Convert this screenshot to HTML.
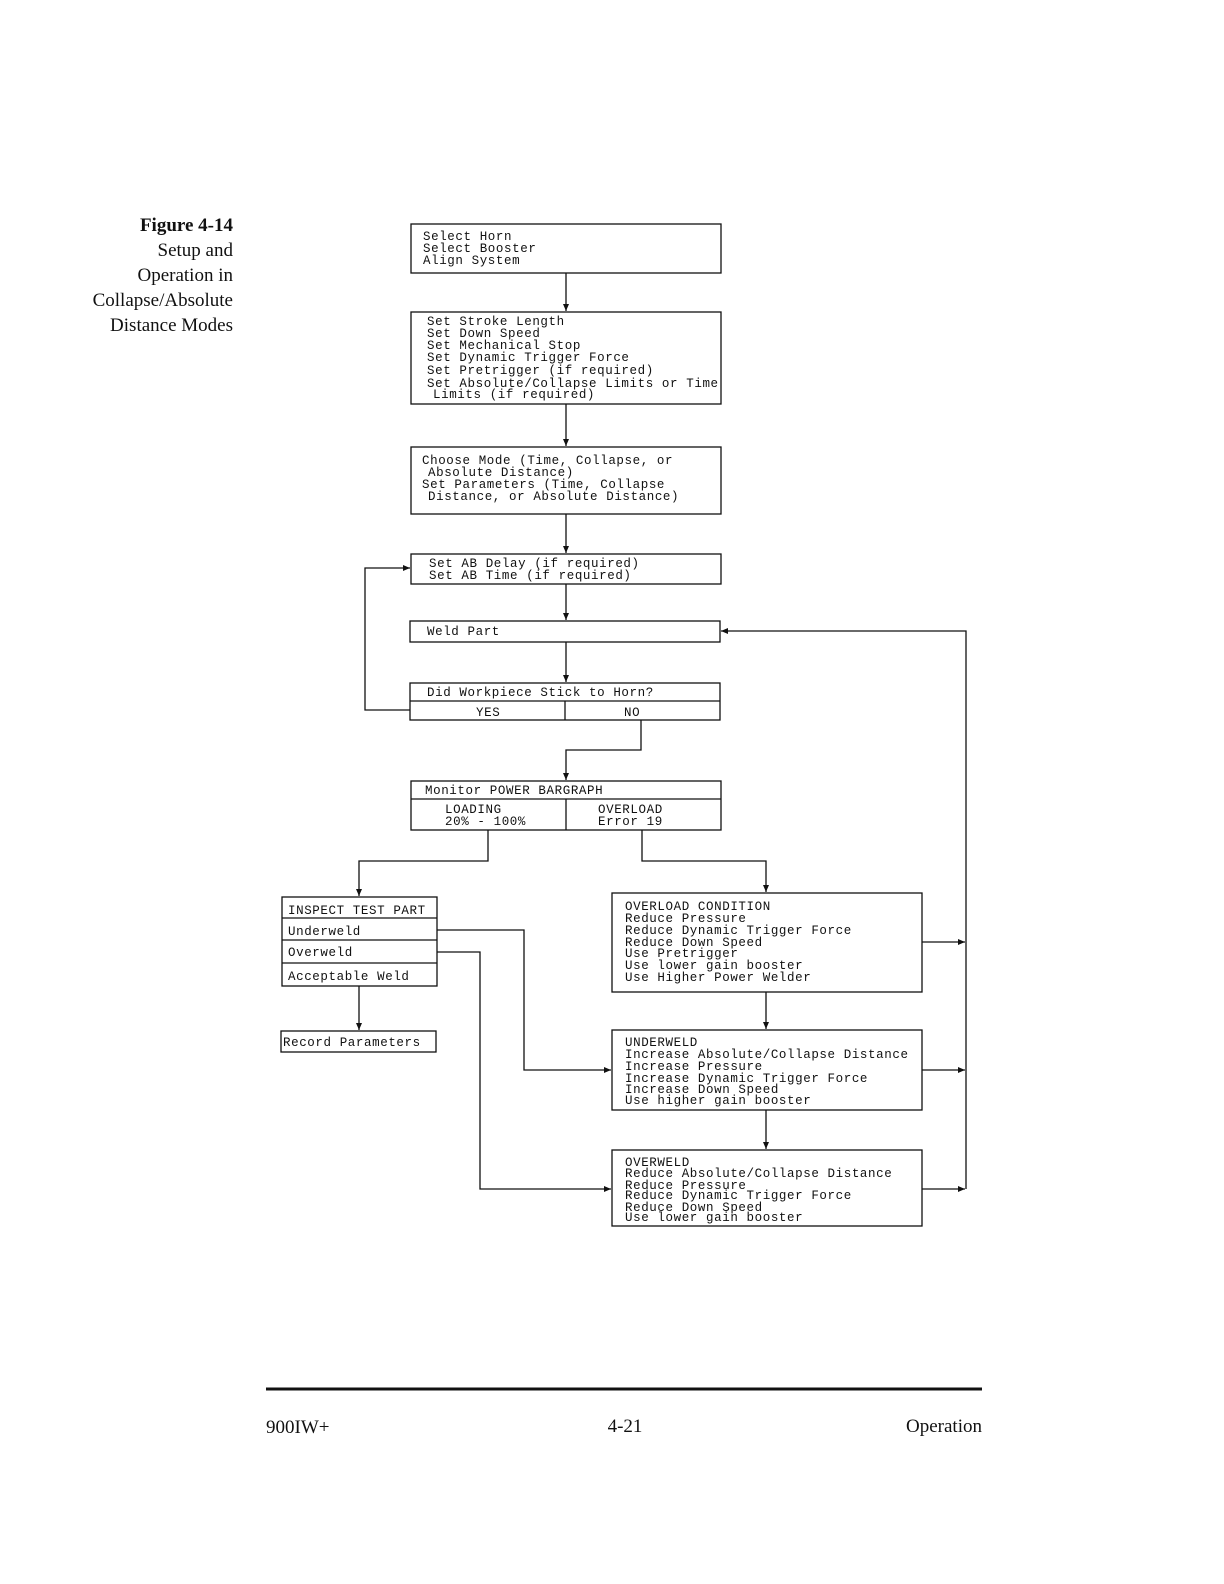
<!DOCTYPE html>
<html><head><meta charset="utf-8"><style>
html,body{margin:0;padding:0;background:#fff;}
svg{display:block}
.m{font-family:"Liberation Mono",monospace;font-size:12.5px;letter-spacing:0.6px;fill:#111}
.s{font-family:"Liberation Serif",serif;font-size:19px;fill:#111}
</style></head><body>
<svg width="1224" height="1584" viewBox="0 0 1224 1584" xmlns="http://www.w3.org/2000/svg">
<defs><marker id="a" markerWidth="8" markerHeight="8" refX="7" refY="4" orient="auto" markerUnits="userSpaceOnUse"><path d="M0,1 L7,4 L0,7 Z" fill="#111"/></marker></defs>
<g class="s" text-anchor="end">
<text x="233" y="231" font-weight="bold">Figure 4-14</text>
<text x="233" y="256">Setup and</text>
<text x="233" y="281">Operation in</text>
<text x="233" y="306">Collapse/Absolute</text>
<text x="233" y="331">Distance Modes</text>
</g>
<g fill="none" stroke="#111" stroke-width="1.3">
<rect x="411" y="224" width="310" height="49"/>
<rect x="411" y="312" width="310" height="92"/>
<rect x="411" y="447" width="310" height="67"/>
<rect x="411" y="554" width="310" height="30"/>
<rect x="410" y="621" width="310" height="21"/>
<rect x="410" y="683" width="310" height="37"/><line x1="410" y1="701" x2="720" y2="701"/><line x1="565" y1="701" x2="565" y2="720"/>
<rect x="411" y="781" width="310" height="49"/><line x1="411" y1="799" x2="721" y2="799"/><line x1="566" y1="799" x2="566" y2="830"/>
<rect x="282" y="897" width="155" height="89"/><line x1="282" y1="918" x2="437" y2="918"/><line x1="282" y1="940" x2="437" y2="940"/><line x1="282" y1="963" x2="437" y2="963"/>
<rect x="281" y="1031" width="155" height="21"/>
<rect x="612" y="893" width="310" height="99"/>
<rect x="612" y="1030" width="310" height="80"/>
<rect x="612" y="1150" width="310" height="76"/>
<g marker-end="url(#a)">
<path d="M566,273 V311"/><path d="M566,404 V446"/><path d="M566,514 V553"/><path d="M566,584 V620"/><path d="M566,642 V682"/>
<path d="M641,720 V750 H566 V780"/>
<path d="M410,710 H365 V568 H410"/>
<path d="M488,830 V861 H359 V896"/>
<path d="M642,830 V861 H766 V892"/>
<path d="M359,986 V1030"/>
<path d="M766,992 V1029"/><path d="M766,1110 V1149"/>
<path d="M437,930 H524 V1070 H611"/>
<path d="M437,952 H480 V1189 H611"/>
<path d="M966,1189 V631 H721"/>
<path d="M922,942 H965"/><path d="M922,1070 H965"/><path d="M922,1189 H965"/>
</g>
</g>
<g class="m">
<text x="423" y="240">Select Horn</text><text x="423" y="252">Select Booster</text><text x="423" y="264">Align System</text>
<text x="427" y="325">Set Stroke Length</text><text x="427" y="337">Set Down Speed</text><text x="427" y="349">Set Mechanical Stop</text><text x="427" y="361">Set Dynamic Trigger Force</text><text x="427" y="374">Set Pretrigger (if required)</text><text x="427" y="387">Set Absolute/Collapse Limits or Time</text><text x="433" y="398">Limits (if required)</text>
<text x="422" y="464">Choose Mode (Time, Collapse, or</text><text x="428" y="476">Absolute Distance)</text><text x="422" y="488">Set Parameters (Time, Collapse</text><text x="428" y="500">Distance, or Absolute Distance)</text>
<text x="429" y="567">Set AB Delay (if required)</text><text x="429" y="579">Set AB Time (if required)</text>
<text x="427" y="635">Weld Part</text>
<text x="427" y="696">Did Workpiece Stick to Horn?</text>
<text x="476" y="716">YES</text><text x="624" y="716">NO</text>
<text x="425" y="794">Monitor POWER BARGRAPH</text>
<text x="445" y="813">LOADING</text><text x="445" y="825">20% - 100%</text>
<text x="598" y="813">OVERLOAD</text><text x="598" y="825">Error 19</text>
<text x="288" y="914">INSPECT TEST PART</text><text x="288" y="935">Underweld</text><text x="288" y="956">Overweld</text><text x="288" y="980">Acceptable Weld</text>
<text x="283" y="1046">Record Parameters</text>
<text x="625" y="910">OVERLOAD CONDITION</text><text x="625" y="922">Reduce Pressure</text><text x="625" y="934">Reduce Dynamic Trigger Force</text><text x="625" y="946">Reduce Down Speed</text><text x="625" y="957">Use Pretrigger</text><text x="625" y="969">Use lower gain booster</text><text x="625" y="981">Use Higher Power Welder</text>
<text x="625" y="1046">UNDERWELD</text><text x="625" y="1058">Increase Absolute/Collapse Distance</text><text x="625" y="1070">Increase Pressure</text><text x="625" y="1082">Increase Dynamic Trigger Force</text><text x="625" y="1093">Increase Down Speed</text><text x="625" y="1104">Use higher gain booster</text>
<text x="625" y="1166">OVERWELD</text><text x="625" y="1177">Reduce Absolute/Collapse Distance</text><text x="625" y="1189">Reduce Pressure</text><text x="625" y="1199">Reduce Dynamic Trigger Force</text><text x="625" y="1211">Reduce Down Speed</text><text x="625" y="1221">Use lower gain booster</text>
</g>
<line x1="266" y1="1389" x2="982" y2="1389" stroke="#111" stroke-width="3"/>
<g class="s"><text x="266" y="1433">900IW+</text><text x="625" y="1432" text-anchor="middle">4-21</text><text x="982" y="1432" text-anchor="end">Operation</text></g>
</svg>
</body></html>
